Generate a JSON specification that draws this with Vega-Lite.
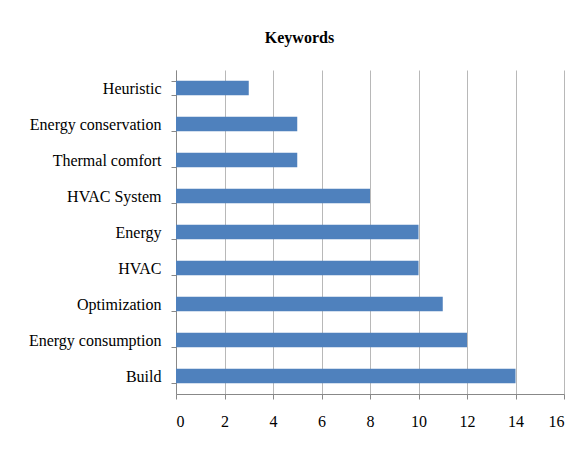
{
  "$schema": "https://vega.github.io/schema/vega-lite/v6.json",
  "width": 388,
  "height": 324,
  "autosize": {"type": "none"},
  "padding": {"left": 176, "top": 70, "right": 18, "bottom": 56},
  "background": "white",
  "title": {"text": "Keywords", "font": "Liberation Serif", "fontSize": 16, "fontWeight": "bold", "color": "black", "anchor": "middle", "frame": "bounds", "offset": 16, "dx": 3},
  "data": {"values": [
    {"keyword": "Heuristic", "count": 3},
    {"keyword": "Energy conservation", "count": 5},
    {"keyword": "Thermal comfort", "count": 5},
    {"keyword": "HVAC System", "count": 8},
    {"keyword": "Energy", "count": 10},
    {"keyword": "HVAC", "count": 10},
    {"keyword": "Optimization", "count": 11},
    {"keyword": "Energy consumption", "count": 12},
    {"keyword": "Build", "count": 14}
  ]},
  "mark": {"type": "bar", "color": "#4F81BD"},
  "encoding": {
    "y": {"field": "keyword", "type": "nominal", "sort": null, "title": null,
      "scale": {"paddingInner": 0.6, "paddingOuter": 0.3},
      "axis": {"tickBand": "extent", "grid": false, "domainColor": "#888888", "tickColor": "#888888", "tickSize": 5, "labelFont": "Liberation Serif", "labelFontSize": 16, "labelColor": "black", "labelPadding": 10}},
    "x": {"field": "count", "type": "quantitative", "title": null,
      "scale": {"domain": [0, 16], "nice": false},
      "axis": {"values": [0, 2, 4, 6, 8, 10, 12, 14, 16], "grid": true, "gridColor": "#b8b8b8", "domainColor": "#888888", "tickColor": "#888888", "tickSize": 5, "labelFont": "Liberation Serif", "labelFontSize": 16, "labelColor": "black", "labelPadding": 14}}
  },
  "config": {"view": {"stroke": null}}
}
